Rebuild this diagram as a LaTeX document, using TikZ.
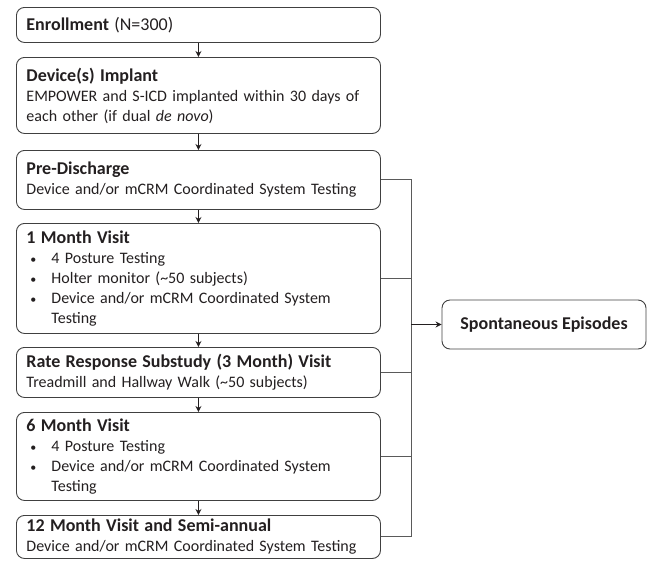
\documentclass[tikz,border=0pt]{standalone}
\usepackage{fontspec}
\setmainfont{Carlito}
\usetikzlibrary{arrows.meta}
\definecolor{ink}{HTML}{231F20}
\definecolor{rule}{HTML}{404040}
\definecolor{wire}{HTML}{5A5A5A}
\newcommand{\bitem}[1]{\par\noindent\makebox[25pt][l]{\hspace{4pt}{\fontsize{12}{12}\selectfont\textbullet}}%
    \parbox[t]{319pt}{\raggedright #1}}
\newcommand{\hd}[1]{{\fontsize{18}{20}\selectfont\textbf{#1}}}
\begin{document}
\begin{tikzpicture}[x=1pt,y=-1pt,
        font=\fontsize{16}{20}\selectfont,
        every node/.style={text=ink},
        stage/.style={draw=rule,line width=0.9pt,rounded corners=8pt,anchor=north west,
            minimum width=364pt,text width=344pt,inner xsep=10pt,inner ysep=3pt,align=left},
        outcome/.style={draw=rule,line width=0.9pt,rounded corners=8pt,
            minimum width=204pt,minimum height=49pt,align=center},
        link/.style={draw=wire,line width=1pt},
        arr/.style={draw=ink,line width=1.3pt,-{Stealth[length=6pt,width=6pt]}}]
    \useasboundingbox (0,0) rectangle (650,560);
    \node[stage,minimum height=35pt] (enroll) at (16,7) {\hd{Enrollment} {\fontsize{18}{20}\selectfont(N=300)}};
    \node[stage,minimum height=76pt] (implant) at (16,57) {\hd{Device(s) Implant}\\
        EMPOWER and S-ICD implanted within 30 days of\\ each other (if dual \textit{de novo})};
    \node[stage,minimum height=59pt] (predis) at (16,150) {\hd{Pre-Discharge}\\
        Device and/or mCRM Coordinated System Testing};
    \node[stage,minimum height=110pt] (month1) at (16,223) {\hd{1 Month Visit}
        \bitem{4 Posture Testing}
        \bitem{Holter monitor (\textasciitilde 50 subjects)}
        \bitem{Device and/or mCRM Coordinated System Testing}};
    \node[stage,minimum height=50pt] (month3) at (16,347) {\hd{Rate Response Substudy (3 Month) Visit}\\
        Treadmill and Hallway Walk (\textasciitilde 50 subjects)};
    \node[stage,minimum height=88pt] (month6) at (16,412) {\hd{6 Month Visit}
        \bitem{4 Posture Testing}
        \bitem{Device and/or mCRM Coordinated System Testing}};
    \node[stage,minimum height=43pt] (month12) at (16,515) {\hd{12 Month Visit and Semi-annual}\\
        Device and/or mCRM Coordinated System Testing};
    \node[outcome] (spont) at (544,324.5) {\hd{Spontaneous Episodes}};

    \draw[arr] (enroll) -- (implant);
    \draw[arr] (implant) -- (predis);
    \draw[arr] (predis) -- (month1);
    \draw[arr] (month1) -- (month3);
    \draw[arr] (month3) -- (month6);
    \draw[arr] (month6) -- (month12);

    \coordinate (bus) at (411,0);
    \draw[link] (predis.east) -- (predis.east -| bus) |- (month12.east);
    \draw[link] (month1.east) -- (month1.east -| bus);
    \draw[link] (month3.east) -- (month3.east -| bus);
    \draw[link] (month6.east) -- (month6.east -| bus);
    \draw[arr] (spont.west -| bus) -- (spont.west);
\end{tikzpicture}
\end{document}
